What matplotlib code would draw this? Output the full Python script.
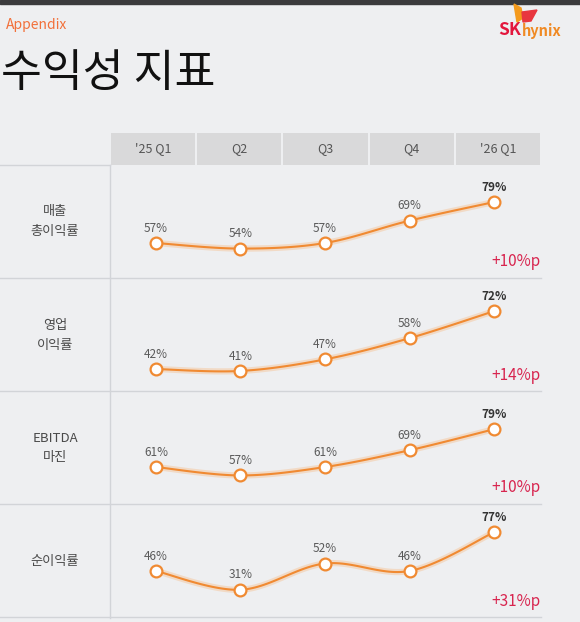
import numpy as np
import matplotlib
matplotlib.use("Agg")
import matplotlib.pyplot as plt
from matplotlib.patches import Polygon, Rectangle
from matplotlib.transforms import offset_copy

plt.rcParams['font.family'] = ['Noto Sans CJK KR', 'DejaVu Sans']

# ---------------- data ----------------
quarters = ["'25 Q1", "Q2", "Q3", "Q4", "'26 Q1"]
row_labels = ["매출\n총이익률", "영업\n이익률", "EBITDA\n마진", "순이익률"]
gross_margin = [57, 54, 57, 69, 79]
operating_margin = [42, 41, 47, 58, 72]
ebitda_margin = [61, 57, 61, 69, 79]
net_margin = [46, 31, 52, 46, 77]
deltas = ["+10%p", "+14%p", "+10%p", "+31%p"]
series = [gross_margin, operating_margin, ebitda_margin, net_margin]
ylims = [(38.2, 98.9), (30.6, 89.2), (43.4, 97.2), (9.2, 99.6)]

W, H = 580, 622
fig = plt.figure(figsize=(W / 100, H / 100), dpi=100, facecolor='#EEEFF1')

def px_axes(x0, y0, x1, y1, **kw):
    return fig.add_axes([x0 / W, 1 - y1 / H, (x1 - x0) / W, (y1 - y0) / H], **kw)

bg = px_axes(0, 0, W, H)
bg.set_xlim(0, W)
bg.set_ylim(H, 0)
bg.axis('off')

# top dark strip
bg.add_patch(Rectangle((0, 0), W, 3.5, color='#3b3b3d', zorder=1))

# Appendix + title
bg.text(6, 25, "Appendix", color='#F2703A', fontsize=10, va='center', ha='left', zorder=2)
bg.text(1, 73, "수익성 지표", color='#111111', fontsize=32, va='center', ha='left',
        fontweight='medium', zorder=2)

# SK hynix logo
bg.text(498, 30, "SK", color='#E3163C', fontsize=12.5, fontweight='bold', va='center', ha='left', zorder=2)
bg.text(522, 31, "hynix", color='#F08A24', fontsize=10.5, fontweight='bold', va='center', ha='left', zorder=2)
bg.add_patch(Polygon([[514, 4], [521, 8], [523, 18], [517, 22]], closed=True, color='#F49A1C', zorder=2))
bg.add_patch(Polygon([[522, 12], [537, 10], [531, 21], [523, 22]], closed=True, color='#E8363F', zorder=2))

# grid lines
line_c = '#D2D4D8'
bg.plot([0, 110], [165, 165], color=line_c, lw=1.0, zorder=2)
bg.plot([110, 110], [165, 618], color=line_c, lw=1.0, zorder=2)
for yy in [278, 391, 504, 617]:
    bg.plot([0, 541], [yy, yy], color=line_c, lw=1.0, zorder=2)

# row labels
row_tops = [165, 278, 391, 504]
for r, top in enumerate(row_tops):
    bg.text(55, top + 57, row_labels[r], ha='center', va='center', fontsize=9.5,
            color='#4a4a4a', linespacing=1.7, zorder=3)

# header
hax = px_axes(110, 133, 541, 165)
hax.set_xlim(-0.5, 4.5)
hax.set_ylim(0, 1)
hax.axis('off')
hax.bar(range(len(quarters)), [1] * len(quarters), width=0.975, bottom=0,
        color='#D9D9DA', edgecolor='none')
for i, q in enumerate(quarters):
    hax.text(i, 0.5, q, ha='center', va='center', fontsize=9, color='#555555')

orange = '#F08A32'
xs = np.arange(len(quarters))

def smooth_curve(x, y, steps=30):
    pts = np.column_stack([x, y]).astype(float)
    n = len(pts)
    s = np.linspace(0, 1, steps)[:, None]
    out = [pts[:1]]
    for i in range(n - 1):
        p0 = pts[max(i - 1, 0)]
        p1 = pts[i]
        p2 = pts[i + 1]
        p3 = pts[min(i + 2, n - 1)]
        c1 = p1 + (p2 - p0) / 6.0
        c2 = p2 - (p3 - p1) / 6.0
        seg = ((1 - s) ** 3) * p1 + 3 * ((1 - s) ** 2) * s * c1 + 3 * (1 - s) * s ** 2 * c2 + s ** 3 * p2
        out.append(seg[1:])
    c = np.vstack(out)
    return c[:, 0], c[:, 1]

for r, (vals, ylim, top) in enumerate(zip(series, ylims, row_tops)):
    ax = px_axes(110, top, 541, top + 113)
    ax.set_xlim(-0.544, 4.556)
    ax.set_ylim(*ylim)
    ax.axis('off')
    cx, cy = smooth_curve(xs, vals)
    ax.plot(cx, cy, color='#F8B477', lw=4.5, alpha=0.35, solid_capstyle='round')
    ax.plot(cx, cy, color=orange, lw=1.5)
    ax.plot(xs, vals, 'o', ms=8.5, mfc='white', mec=orange, mew=1.6, zorder=5)
    lab_tr = offset_copy(ax.transData, fig=fig, x=0, y=6, units='points')
    for i, v in enumerate(vals):
        last = i == len(vals) - 1
        ax.text(i, v, f"{v}%", transform=lab_tr, ha='center', va='bottom', fontsize=8.5,
                color='#333333' if last else '#5a5a5a',
                fontweight='bold' if last else 'normal')
    ax.text(4.556, ylim[0] + (ylim[1] - ylim[0]) * (16 / 113), deltas[r],
            ha='right', va='center', fontsize=11, color='#D8254F')

fig.savefig("out.png", dpi=100, facecolor=fig.get_facecolor())
